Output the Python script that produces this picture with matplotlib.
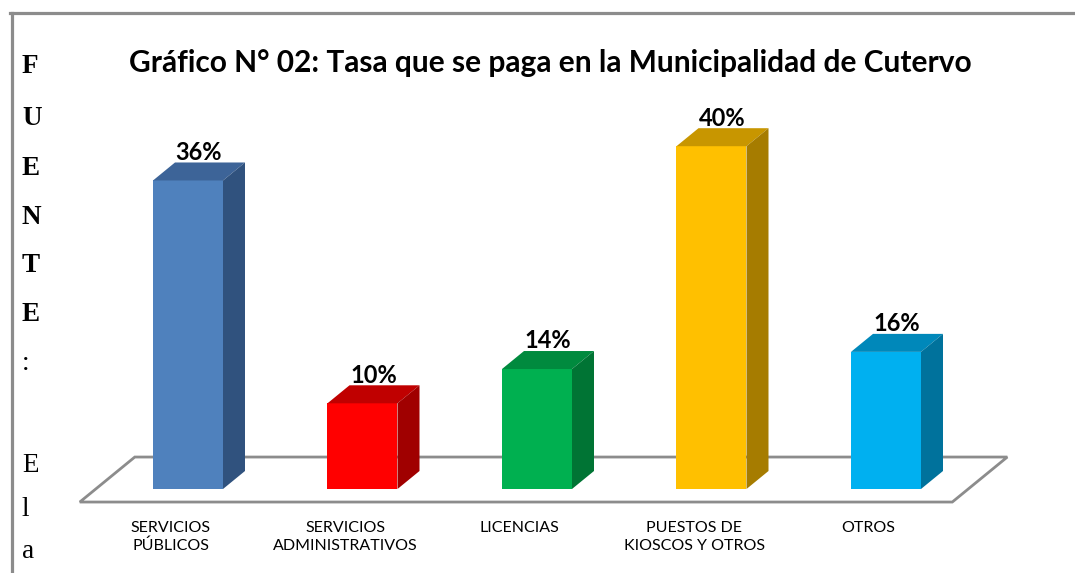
import numpy as np
import matplotlib.pyplot as plt
from matplotlib.patches import Polygon
from matplotlib.lines import Line2D

# datos
categorias = ['SERVICIOS\nPÚBLICOS', 'SERVICIOS\nADMINISTRATIVOS', 'LICENCIAS',
              'PUESTOS DE\nKIOSCOS Y OTROS', 'OTROS']
porcentajes = [36, 10, 14, 40, 16]
etiquetas = ['36%', '10%', '14%', '40%', '16%']
titulo = 'Gráfico N° 02: Tasa que se paga en la Municipalidad de Cutervo'

# colores de cada cara de las barras
color_frente = ['#4F81BD', '#FF0000', '#00B050', '#FFC000', '#00B0F0']
color_tapa = ['#3D6498', '#C00000', '#008A3E', '#C89600', '#0088BA']
color_lado = ['#30527E', '#A00000', '#007434', '#A67C00', '#00729C']

# texto vertical a la izquierda (pie de pagina del documento)
letras = ['F', 'U', 'E', 'N', 'T', 'E', ':', 'E', 'l', 'a']
letras_negrita = [True, True, True, True, True, True, False, False, False, False]
letras_base_px = [73, 125, 175, 224, 272, 321, 370, 472, 516, 558]

W, H = 1075, 573
fig = plt.figure(figsize=(W / 100, H / 100), dpi=100)
fig.patch.set_facecolor('white')

# ejes: x = indice de categoria, y = porcentaje
xlim = (-0.75, 4.85)
ylim = (-3, 45)
px_cat = 174.5
px_pct = 8.57
x0_px = 188 + px_cat * xlim[0]
y0_px = 489 + px_pct * (-ylim[0])
ax = fig.add_axes([x0_px / W, (H - y0_px) / H,
                   px_cat * (xlim[1] - xlim[0]) / W,
                   px_pct * (ylim[1] - ylim[0]) / H])
ax.set_xlim(*xlim)
ax.set_ylim(*ylim)
ax.axis('off')

ancho = 70 / px_cat
dx = 22 / px_cat
dy = 18 / px_pct

# piso en perspectiva
piso_frente, piso_fondo = -1.52, 3.73
piso_izq, piso_der = -0.62, 4.38
desp = (piso_fondo - piso_frente) * dx / dy
piso = Polygon([(piso_izq, piso_frente), (piso_der, piso_frente),
                (piso_der + desp, piso_fondo), (piso_izq + desp, piso_fondo)],
               closed=True, facecolor='white', edgecolor='#8C8C8C', lw=2.0, zorder=1)
ax.add_patch(piso)

x = np.arange(len(porcentajes))
ax.bar(x, porcentajes, width=ancho, color=color_frente, zorder=3, linewidth=0)
for i, v in enumerate(porcentajes):
    l, r = x[i] - ancho / 2, x[i] + ancho / 2
    ax.add_patch(Polygon([(l, v), (r, v), (r + dx, v + dy), (l + dx, v + dy)],
                         closed=True, facecolor=color_tapa[i], lw=0, zorder=3))
    ax.add_patch(Polygon([(r, 0), (r + dx, dy), (r + dx, v + dy), (r, v)],
                         closed=True, facecolor=color_lado[i], lw=0, zorder=3))
    ax.text(x[i] + dx / 2, v + dy + 0.3, etiquetas[i], ha='center', va='baseline',
            fontsize=17, fontweight='bold', family='Lato', zorder=4)
    ax.text(x[i] - 0.1, -3.7, categorias[i], ha='center', va='top',
            fontsize=11.5, family='Lato', linespacing=1.35, clip_on=False)

fig.text(550 / W, 1 - 63 / H, titulo, ha='center', va='center',
         fontsize=21.5, fontweight='bold', family='Lato')

# letras a la izquierda
for ch, neg, yb in zip(letras, letras_negrita, letras_base_px):
    fig.text(22 / W, 1 - yb / H, ch, ha='left', va='baseline',
             family='Liberation Serif', fontsize=19.5,
             fontweight='bold' if neg else 'normal')

# marco gris
borde = '#8C8C8C'
fig.add_artist(Line2D([10 / W, 1], [1 - 12.5 / H] * 2, transform=fig.transFigure,
                      color=borde, lw=2.3))
fig.add_artist(Line2D([11.5 / W] * 2, [0, 1 - 12.5 / H], transform=fig.transFigure,
                      color=borde, lw=2.3))

fig.savefig('out.png', dpi=100, facecolor='white')
